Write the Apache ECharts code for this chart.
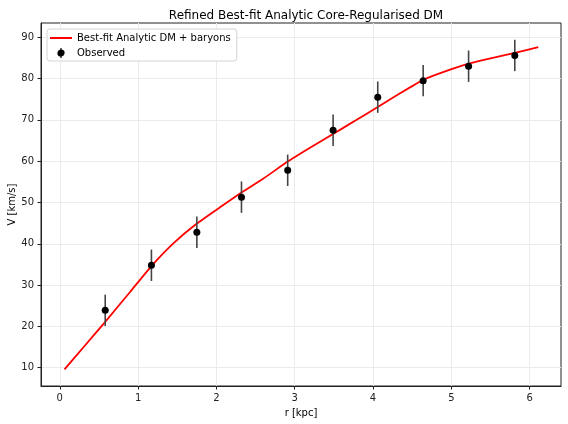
<!DOCTYPE html>
<html>
<head>
<meta charset="utf-8">
<script src="https://cdn.jsdelivr.net/npm/echarts@6/dist/echarts.min.js"></script>
<style>html,body{margin:0;padding:0;background:#fff;}#c{width:568px;height:424px;}</style>
</head>
<body>
<div id="c"></div>
<script>
// Observed data
var obsR = [0.58, 1.17, 1.75, 2.32, 2.91, 3.49, 4.06, 4.64, 5.22, 5.81];
var obsV = [23.9, 34.8, 42.8, 51.3, 57.8, 67.5, 75.5, 79.5, 83.0, 85.6];
var obsErr = [3.8, 3.8, 3.8, 3.8, 3.8, 3.8, 3.8, 3.8, 3.8, 3.8];
// Best-fit model curve
var fitR = [0.06, 0.3, 0.58, 0.9, 1.17, 1.45, 1.75, 2.05, 2.32, 2.6, 2.91, 3.2, 3.49, 3.78, 4.06, 4.35, 4.64, 4.93, 5.22, 5.5, 5.81, 6.11];
var fitV = [9.6, 14.9, 21.1, 28.4, 34.6, 40.1, 44.9, 48.9, 52.4, 55.8, 59.9, 63.3, 66.6, 69.9, 73.1, 76.5, 79.7, 81.8, 83.6, 84.9, 86.2, 87.6];
var xTicks = [0, 1, 2, 3, 4, 5, 6];
var yTicks = [10, 20, 30, 40, 50, 60, 70, 80, 90];

var titleText = 'Refined Best-fit Analytic Core-Regularised DM';
var fitName = 'Best-fit Analytic DM + baryons';
var obsName = 'Observed';

var font = 'DejaVu Sans';
var fitData = fitR.map(function (r, i) { return [r, fitV[i]]; });
var obsData = obsR.map(function (r, i) { return [r, obsV[i]]; });
var errData = obsR.map(function (r, i) { return [r, obsV[i] - obsErr[i], obsV[i] + obsErr[i]]; });

var chart = echarts.init(document.getElementById('c'), null, {renderer: 'canvas'});
chart.setOption({
  animation: false,
  backgroundColor: '#fff',
  textStyle: {fontFamily: font},
  title: {
    text: titleText, left: 301, top: 5, textAlign: 'center',
    textStyle: {fontFamily: font, fontSize: 12, fontWeight: 'normal', color: '#000'}
  },
  grid: {left: 41, right: 7, top: 23, bottom: 38, show: true, borderColor: '#222', borderWidth: 1,
         containLabel: false, outerBoundsMode: 'none'},
  legend: {
    orient: 'vertical', left: 47, top: 29, padding: [4, 6, 3, 3], itemGap: 5,
    backgroundColor: '#fff', borderColor: '#d4d4d4', borderWidth: 1, borderRadius: 3,
    itemWidth: 22, itemHeight: 10,
    textStyle: {fontFamily: font, fontSize: 10, color: '#000'},
    data: [
      {name: fitName, icon: 'path://M0,0 H22 V2 H0 Z'},
      {name: obsName, icon: 'path://M3,0 H4.2 V1.45 A3.6,3.6 0 0 1 4.2,8.55 V10 H3 V8.55 A3.6,3.6 0 0 1 3,1.45 Z'}
    ]
  },
  xAxis: {
    type: 'value', min: -0.24, max: 6.40,
    name: 'r [kpc]', nameLocation: 'middle', nameGap: 22, nameMoveOverlap: false,
    nameTextStyle: {fontFamily: font, fontSize: 10, color: '#000'},
    axisLine: {show: true, onZero: false, lineStyle: {color: '#222'}},
    axisTick: {show: true, inside: false, length: 3.5, customValues: xTicks, lineStyle: {color: '#222'}},
    axisLabel: {customValues: xTicks, fontFamily: font, fontSize: 10, color: '#222', margin: 7},
    splitLine: {show: true, lineStyle: {color: '#ebebeb', width: 1}}
  },
  yAxis: {
    type: 'value', min: 5.57, max: 93.46,
    name: 'V [km/s]', nameLocation: 'middle', nameGap: 24, nameRotate: 90, nameMoveOverlap: false,
    nameTextStyle: {fontFamily: font, fontSize: 10, color: '#000'},
    axisLine: {show: true, onZero: false, lineStyle: {color: '#222'}},
    axisTick: {show: true, inside: false, length: 3.5, customValues: yTicks, lineStyle: {color: '#222'}},
    axisLabel: {customValues: yTicks, fontFamily: font, fontSize: 10, color: '#222', margin: 7},
    splitLine: {show: true, lineStyle: {color: '#ebebeb', width: 1}}
  },
  series: [
    {
      name: fitName, type: 'line', data: fitData, smooth: 0.15, showSymbol: false, symbol: 'none',
      lineStyle: {color: '#ff0000', width: 1.8}, itemStyle: {color: '#ff0000'}, z: 3
    },
    {
      name: obsName + '_err', type: 'custom', data: errData, z: 4,
      renderItem: function (params, api) {
        var p1 = api.coord([api.value(0), api.value(1)]);
        var p2 = api.coord([api.value(0), api.value(2)]);
        return {type: 'line', shape: {x1: p1[0], y1: p1[1], x2: p2[0], y2: p2[1]},
                style: {stroke: '#444', lineWidth: 1.6}};
      },
      encode: {x: 0, y: [1, 2]}
    },
    {
      name: obsName, type: 'scatter', data: obsData, symbol: 'circle', symbolSize: 7,
      itemStyle: {color: '#000', opacity: 1}, z: 5
    }
  ]
});
</script>
</body>
</html>
